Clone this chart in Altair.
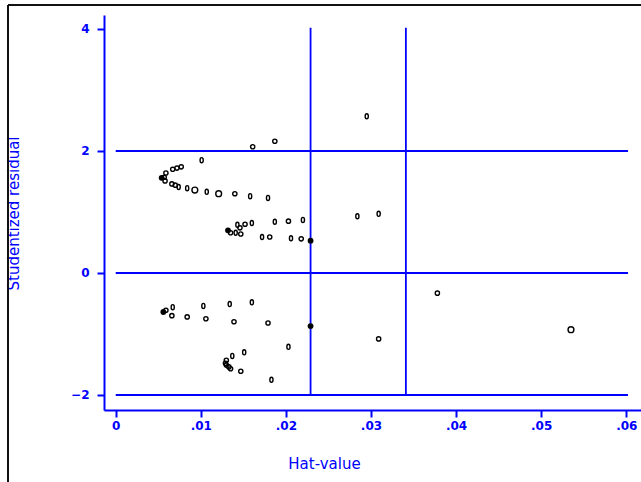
import altair as alt
import pandas as pd

# ---- data ----
hat = [0.0295, 0.0187, 0.0161, 0.0101, 0.0077, 0.0072, 0.0067, 0.0059, 0.0057, 0.0054,
       0.0058, 0.0066, 0.0070, 0.0074, 0.0084, 0.0093, 0.0107, 0.0121, 0.0140, 0.0158,
       0.0179, 0.0132, 0.0135, 0.0143, 0.0146, 0.0152, 0.0160, 0.0147, 0.0141, 0.0187,
       0.0203, 0.0220, 0.0172, 0.0181, 0.0206, 0.0218, 0.0229, 0.0284, 0.0309, 0.0056,
       0.0059, 0.0067, 0.0066, 0.0084, 0.0103, 0.0106, 0.0134, 0.0139, 0.0160, 0.0179,
       0.0203, 0.0229, 0.0130, 0.0129, 0.0130, 0.0133, 0.0135, 0.0137, 0.0151, 0.0147,
       0.0183, 0.0378, 0.0309, 0.0535]
rstud = [2.57, 2.16, 2.07, 1.85, 1.74, 1.72, 1.70, 1.64, 1.57, 1.56,
         1.51, 1.46, 1.44, 1.41, 1.39, 1.36, 1.33, 1.30, 1.30, 1.26,
         1.23, 0.70, 0.66, 0.79, 0.74, 0.80, 0.82, 0.64, 0.66, 0.84,
         0.85, 0.87, 0.59, 0.59, 0.57, 0.56, 0.53, 0.93, 0.97, -0.64,
         -0.61, -0.56, -0.70, -0.72, -0.54, -0.75, -0.51, -0.80, -0.48, -0.82,
         -1.21, -0.87, -1.43, -1.48, -1.51, -1.54, -1.57, -1.36, -1.30, -1.61,
         -1.75, -0.33, -1.08, -0.93]
kind = ["m", "s", "s", "m", "s", "s", "s", "s", "s", "f",
        "s", "s", "s", "m", "m", "L", "m", "L", "s", "m",
        "m", "f", "s", "m", "s", "s", "m", "s", "m", "m",
        "s", "m", "m", "s", "m", "s", "f", "m", "m", "f",
        "s", "m", "s", "s", "m", "s", "m", "s", "m", "s",
        "m", "f", "s", "s", "s", "s", "s", "m", "m", "s",
        "m", "s", "s", "L"]

ref_r = [2, 0, -2]          # horizontal reference lines
ref_r_hat_end = 0.0602
ref_h = [0.0229, 0.0341]    # vertical reference lines (hat-value cut-offs)
ref_h_r_top = 4.02
ref_h_r_bottom = -2

x_ticks = [0, 0.01, 0.02, 0.03, 0.04, 0.05, 0.06]
y_ticks = [4, 2, 0, -2]

BLUE = "#0000ff"
FONT = "DejaVu Sans"

pts = pd.DataFrame({"hat": hat, "r": rstud, "kind": kind})
hl = pd.DataFrame({"r": ref_r, "hat": [0] * len(ref_r), "hat2": [ref_r_hat_end] * len(ref_r)})
vl = pd.DataFrame({"hat": ref_h, "r": [ref_h_r_bottom] * len(ref_h), "r2": [ref_h_r_top] * len(ref_h)})

xscale = alt.Scale(domain=[-0.001375, 0.06173], nice=False, zero=False)
yscale = alt.Scale(domain=[-2.246, 4.2295], nice=False, zero=False)

xaxis = alt.Axis(values=x_ticks,
                 labelExpr="datum.value == 0 ? '0' : slice(format(datum.value, '.2f'), 1)",
                 title="Hat-value", titleX=220, titleY=53, titleAlign="center",
                 titleBaseline="middle", titleFontSize=15, titleFontWeight="normal",
                 titleColor=BLUE, titleFont=FONT,
                 labelFont=FONT, labelFontSize=12, labelFontWeight="bold", labelColor=BLUE,
                 labelPadding=3, tickSize=7, tickWidth=2, tickColor=BLUE,
                 domainColor=BLUE, domainWidth=2, grid=False, labelFlush=False)
yaxis = alt.Axis(values=y_ticks, format="d",
                 title="Studentized residual", titleX=-91, titleY=198, titleAngle=270,
                 titleAlign="center", titleBaseline="middle", titleFontSize=15,
                 titleFontWeight="normal", titleColor=BLUE, titleFont=FONT,
                 labelFont=FONT, labelFontSize=12, labelFontWeight="bold", labelColor=BLUE,
                 labelPadding=8, tickSize=7, tickWidth=2, tickColor=BLUE,
                 domainColor=BLUE, domainWidth=2, grid=False, labelFlush=False)

oval = "M -0.62,0 A 0.62,1 0 1,0 0.62,0 A 0.62,1 0 1,0 -0.62,0 Z"

open_pts = alt.Chart(pts).transform_filter("datum.kind != 'f'").mark_point(
    filled=False, color="black", strokeWidth=1.4, opacity=1
).encode(
    x=alt.X("hat:Q", scale=xscale, axis=xaxis),
    y=alt.Y("r:Q", scale=yscale, axis=yaxis),
    size=alt.Size("kind:N", scale=alt.Scale(domain=["s", "m", "L"], range=[18, 34, 60]), legend=None),
    shape=alt.Shape("kind:N", scale=alt.Scale(domain=["s", "m", "L"], range=["circle", oval, "circle"]), legend=None),
)

filled_pts = alt.Chart(pts).transform_filter("datum.kind == 'f'").mark_point(
    filled=True, color="black", size=34, shape="circle", opacity=1
).encode(
    x=alt.X("hat:Q", scale=xscale),
    y=alt.Y("r:Q", scale=yscale),
)

hrules = alt.Chart(hl).mark_rule(color=BLUE, strokeWidth=1.8).encode(
    x=alt.X("hat:Q", scale=xscale), x2="hat2:Q", y=alt.Y("r:Q", scale=yscale)
)
vrules = alt.Chart(vl).mark_rule(color=BLUE, strokeWidth=1.8).encode(
    x=alt.X("hat:Q", scale=xscale), y=alt.Y("r:Q", scale=yscale), y2="r2:Q"
)

# outer frame (top and left edges, as in the reference window)
frame_top = alt.Chart(pts).mark_rule(color="#111111", strokeWidth=2).encode(
    x=alt.value(-96), x2=alt.value(540), y=alt.value(-10)
)
frame_left = alt.Chart(pts).mark_rule(color="#111111", strokeWidth=2).encode(
    x=alt.value(-96), y=alt.value(-10), y2=alt.value(470)
)

chart = alt.layer(hrules, vrules, open_pts, filled_pts, frame_top, frame_left).properties(
    width=537, height=395,
    autosize=alt.AutoSizeParams(type="none"),
    padding={"left": 104, "top": 15, "right": 0, "bottom": 72},
    background="white",
).configure_view(stroke=None)

chart.save("out.html", embed_options={"renderer": "svg", "actions": False})
